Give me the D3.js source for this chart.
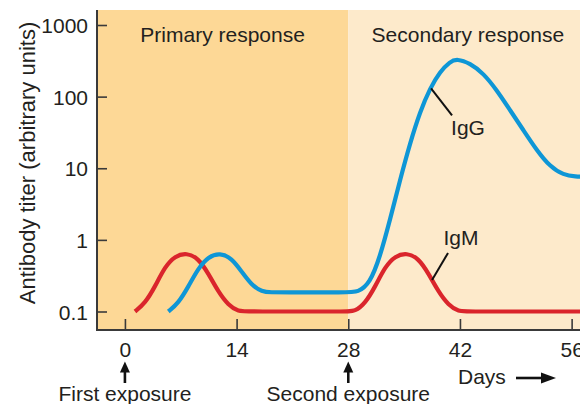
<!DOCTYPE html>
<html>
<head>
<meta charset="utf-8">
<script src="https://cdn.jsdelivr.net/npm/d3@7"></script>
<style>
  html, body { margin: 0; padding: 0; background: #ffffff; }
  svg { display: block; font-family: "Liberation Sans", Arial, Helvetica, sans-serif; }
</style>
</head>
<body>
<svg id="chart" width="580" height="404"></svg>
<script>
// ---- data ----
const xTicks = [0, 14, 28, 42, 56];
const yTicks = [0.1, 1, 10, 100, 1000];
const yTickLabels = ["0.1", "1", "10", "100", "1000"];
const phases = ["Primary response", "Secondary response"];
const phaseStarts = [-3.5, 28];
const phaseEnds = [28, 58];
const exposureDays = [0, 28];
const exposureLabels = ["First exposure", "Second exposure"];

const igmDays = [1.26, 2.52, 3.77, 5.02, 6.28, 7.74, 9.2, 10.45, 11.7, 12.96, 14.21, 15.5, 27.6,
                 28.86, 30.12, 31.37, 32.62, 33.88, 35.34, 36.8, 38.05, 39.3, 40.56, 41.81, 43.1, 57.5];
const igmValues = [0.1, 0.13, 0.222, 0.423, 0.596, 0.66, 0.553, 0.341, 0.189, 0.123, 0.1, 0.1, 0.1,
                   0.1, 0.13, 0.222, 0.423, 0.596, 0.66, 0.553, 0.341, 0.189, 0.123, 0.1, 0.1, 0.1];

const iggDays = [5.44, 6.69, 7.95, 9.2, 10.45, 11.92, 13.39, 14.64, 15.89, 17.15, 18.4, 19.7, 27.9,
                 29.2, 30.72, 31.98, 33.23, 34.49, 35.74, 37.0, 38.25, 39.5, 40.75, 41.63,
                 43.26, 44.93, 46.6, 48.27, 49.94, 51.6, 53.3, 54.96, 56.6, 57.5];
const iggValues = [0.1, 0.13, 0.222, 0.401, 0.582, 0.66, 0.553, 0.36, 0.234, 0.189, 0.185, 0.185, 0.185,
                   0.185, 0.248, 0.582, 1.9, 6.86, 22.3, 61.7, 130.6, 223, 307, 338,
                   292, 212, 124, 65, 34.2, 18, 10.5, 8.05, 7.62, 7.6];

const seriesNames = ["IgM", "IgG"];
const labelAnchorDays = [38.5, 38.25];   // where each leader line touches its curve

// ---- layout ----
const svg = d3.select("#chart");
const plotLeft = 97, plotRight = 588, plotTop = 10, plotBottom = 330;
const x = d3.scaleLinear().domain([-3.5, 57.05]).range([97, 580]);
const y = d3.scaleLog().domain([0.1, 1000]).range([311.5, 25]);

const bgColors = ["#FDD896", "#FDEACB"];
const lineColors = ["#DA252C", "#0E96D6"];
const textColor = "#231F20";
const axisColor = "#3a3a3a";
const fs = 21;

// backgrounds
svg.selectAll("rect.phase").data(phases).join("rect")
  .attr("class", "phase")
  .attr("x", (d, i) => Math.max(plotLeft, x(phaseStarts[i])))
  .attr("y", plotTop)
  .attr("width", (d, i) => Math.min(plotRight, x(phaseEnds[i])) - Math.max(plotLeft, x(phaseStarts[i])))
  .attr("height", plotBottom - plotTop)
  .attr("fill", (d, i) => bgColors[i]);

// phase headers
svg.selectAll("text.phase").data(phases).join("text")
  .attr("class", "phase")
  .attr("x", (d, i) => (Math.max(plotLeft, x(phaseStarts[i])) + x(phaseEnds[i])) / 2)
  .attr("y", 41.5)
  .attr("text-anchor", "middle")
  .attr("font-size", fs)
  .attr("fill", textColor)
  .text(d => d);

// axes
const yAxis = d3.axisLeft(y).tickValues(yTicks).tickFormat((d, i) => yTickLabels[i])
  .tickSizeInner(-10).tickSizeOuter(0).tickPadding(9);
const gy = svg.append("g").attr("transform", `translate(${plotLeft},0)`).call(yAxis);
gy.select(".domain").remove();
gy.selectAll(".tick line").attr("stroke", axisColor).attr("stroke-width", 1.6);
gy.selectAll(".tick text").attr("font-size", fs).attr("fill", textColor)
  .attr("font-family", "Liberation Sans, Arial, sans-serif").attr("dy", "0.36em");

const xAxis = d3.axisBottom(x).tickValues(xTicks).tickSizeInner(-11).tickSizeOuter(0).tickPadding(12);
const gx = svg.append("g").attr("transform", `translate(0,${plotBottom})`).call(xAxis);
gx.select(".domain").remove();
gx.selectAll(".tick line").attr("stroke", axisColor).attr("stroke-width", 1.6);
gx.selectAll(".tick text").attr("font-size", fs).attr("fill", textColor)
  .attr("font-family", "Liberation Sans, Arial, sans-serif");

svg.append("line").attr("x1", plotLeft).attr("x2", plotLeft).attr("y1", plotTop).attr("y2", plotBottom + 1)
  .attr("stroke", axisColor).attr("stroke-width", 2);
svg.append("line").attr("x1", plotLeft).attr("x2", plotRight).attr("y1", plotBottom).attr("y2", plotBottom)
  .attr("stroke", axisColor).attr("stroke-width", 2);

// y axis title
svg.append("text")
  .attr("transform", `translate(35,163) rotate(-90)`)
  .attr("text-anchor", "middle")
  .attr("font-size", 22)
  .attr("fill", textColor)
  .text("Antibody titer (arbitrary units)");

// curves
const line = d3.line().x(d => x(d[0])).y(d => y(d[1])).curve(d3.curveBasis);
const seriesData = [
  d3.zip(igmDays, igmValues),
  d3.zip(iggDays, iggValues)
];
svg.append("g").selectAll("path").data(seriesData).join("path")
  .attr("d", line)
  .attr("fill", "none")
  .attr("stroke", (d, i) => lineColors[i])
  .attr("stroke-width", 4.2)
  .attr("stroke-linecap", "butt");

// series labels with leader lines
function valueAt(days, vals, day) {
  const lv = vals.map(Math.log10);
  for (let i = 0; i < days.length - 1; i++) {
    if (day >= days[i] && day <= days[i + 1]) {
      const t = (day - days[i]) / (days[i + 1] - days[i]);
      return Math.pow(10, lv[i] + t * (lv[i + 1] - lv[i]));
    }
  }
  return vals[vals.length - 1];
}
// IgM: leader goes up-right to label
{
  const ax = x(labelAnchorDays[0]), ay = y(valueAt(igmDays, igmValues, labelAnchorDays[0]));
  svg.append("line").attr("x1", ax).attr("y1", ay).attr("x2", ax + 16).attr("y2", ay - 27)
    .attr("stroke", "#111").attr("stroke-width", 2);
  svg.append("text").attr("x", ax + 29).attr("y", ay - 35).attr("text-anchor", "middle")
    .attr("font-size", fs).attr("fill", textColor).text(seriesNames[0]);
}
// IgG: leader goes down-right to label
{
  const ax = x(labelAnchorDays[1]) + 1, ay = y(valueAt(iggDays, iggValues, labelAnchorDays[1]));
  svg.append("line").attr("x1", ax).attr("y1", ay).attr("x2", ax + 21).attr("y2", ay + 27)
    .attr("stroke", "#111").attr("stroke-width", 2);
  svg.append("text").attr("x", ax + 37).attr("y", ay + 47).attr("text-anchor", "middle")
    .attr("font-size", fs).attr("fill", textColor).text(seriesNames[1]);
}

// exposure arrows and labels
function upArrow(cx, yTop, yBottom) {
  svg.append("line").attr("x1", cx).attr("x2", cx).attr("y1", yTop + 8).attr("y2", yBottom)
    .attr("stroke", "#111").attr("stroke-width", 2.6);
  svg.append("path").attr("d", `M${cx},${yTop} L${cx - 5},${yTop + 11} L${cx + 5},${yTop + 11} Z`).attr("fill", "#111");
}
exposureDays.forEach((d, i) => {
  upArrow(x(d), 361.5, 383);
  svg.append("text").attr("x", x(d)).attr("y", 400.5).attr("text-anchor", "middle")
    .attr("font-size", fs).attr("fill", textColor).text(exposureLabels[i]);
});

// Days label with right arrow
svg.append("text").attr("x", 458).attr("y", 384).attr("font-size", fs).attr("fill", textColor).text("Days");
svg.append("line").attr("x1", 516).attr("x2", 546).attr("y1", 378).attr("y2", 378)
  .attr("stroke", "#111").attr("stroke-width", 2.6);
svg.append("path").attr("d", "M556,378 L541,372.5 L541,383.5 Z").attr("fill", "#111");
</script>
</body>
</html>
